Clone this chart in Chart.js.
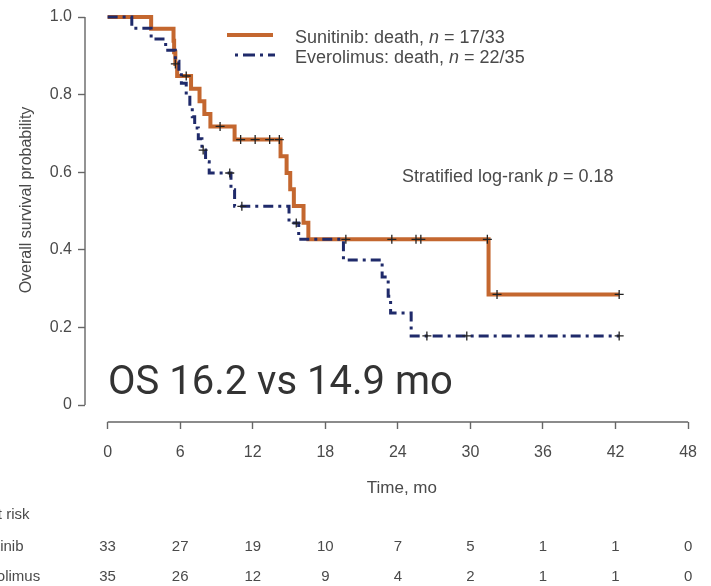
<!DOCTYPE html>
<html>
<head>
<meta charset="utf-8">
<script src="https://cdn.jsdelivr.net/npm/chart.js@4.4.0/dist/chart.umd.min.js"></script>
<style>
  html, body { margin: 0; padding: 0; background: #fff; }
  #osChart { display: block; }
</style>
</head>
<body>
<canvas id="osChart" width="711" height="586"></canvas>
<script>
// Kaplan-Meier steps: time (months) and survival after each event
let sunTimes = [0, 3.6, 5.45, 5.5, 5.6, 5.75, 6.9, 7.6, 8.0, 8.5, 10.5, 14.3, 14.8, 15.1, 15.4, 16.2, 16.6, 31.5, 42.3];
let sunSurv = [1, 0.970, 0.939, 0.909, 0.879, 0.848, 0.815, 0.783, 0.750, 0.718, 0.684, 0.641, 0.598, 0.556, 0.513, 0.470, 0.427, 0.285, 0.285];
let sunCensorTimes = [5.6, 6.5, 9.3, 11.0, 12.2, 13.4, 14.2, 19.7, 23.5, 25.5, 25.9, 31.4, 32.2, 42.3];
let sunCensorSurv = [0.879, 0.848, 0.718, 0.684, 0.684, 0.684, 0.684, 0.427, 0.427, 0.427, 0.427, 0.427, 0.285, 0.285];

let eveTimes = [0, 2.0, 3.6, 4.8, 5.6, 5.9, 6.1, 6.5, 6.8, 7.0, 7.2, 7.5, 7.8, 8.1, 8.4, 10.2, 10.5, 15.0, 15.8, 19.5, 22.7, 23.2, 23.4, 25.1, 42.3];
let eveSurv = [1, 0.971, 0.943, 0.914, 0.886, 0.857, 0.829, 0.800, 0.771, 0.743, 0.714, 0.686, 0.657, 0.627, 0.598, 0.555, 0.512, 0.469, 0.427, 0.374, 0.330, 0.280, 0.237, 0.178, 0.178];
let eveCensorTimes = [7.9, 10.1, 11.1, 15.6, 26.4, 29.7, 42.3];
let eveCensorSurv = [0.657, 0.598, 0.512, 0.469, 0.178, 0.178, 0.178];

let xTicks = [0, 6, 12, 18, 24, 30, 36, 42, 48];
let yTicks = [0, 0.2, 0.4, 0.6, 0.8, 1.0];
let sunRisk = [33, 27, 19, 10, 7, 5, 1, 1, 0];
let eveRisk = [35, 26, 12, 9, 4, 2, 1, 1, 0];

let orange = '#c4672f';
let navy = '#1f2a6a';
let grey = '#4a4a4a';
let sans = '"Liberation Sans", Arial, sans-serif';
let blueDash = [10, 5, 3, 5];

let pts = (xs, ys) => xs.map((x, i) => ({ x: x, y: ys[i] }));

function textRuns(ctx, runs, x, y, size) {
    runs.forEach(r => {
        ctx.font = (r[1] ? 'italic ' : '') + size + 'px ' + sans;
        ctx.fillText(r[0], x, y);
        x += ctx.measureText(r[0]).width;
    });
}

let extras = {
    id: 'extras',
    afterDraw(chart) {
        let ctx = chart.ctx;
        let xs = chart.scales.x, ys = chart.scales.y;
        let area = chart.chartArea;
        ctx.save();
        // detached axis lines
        ctx.strokeStyle = '#666';
        ctx.lineWidth = 1.4;
        ctx.beginPath();
        ctx.moveTo(area.left, ys.getPixelForValue(1));
        ctx.lineTo(area.left, ys.getPixelForValue(0));
        ctx.moveTo(xs.getPixelForValue(0), area.bottom);
        ctx.lineTo(xs.getPixelForValue(48), area.bottom);
        ctx.stroke();

        // legend
        let lx0 = 227, lx1 = 273;
        ctx.lineWidth = 4;
        ctx.strokeStyle = orange;
        ctx.beginPath(); ctx.moveTo(lx0, 35); ctx.lineTo(lx1, 35); ctx.stroke();
        ctx.lineWidth = 3;
        ctx.strokeStyle = navy;
        ctx.setLineDash([3, 5, 12, 5]);
        ctx.beginPath(); ctx.moveTo(lx0 + 8, 55); ctx.lineTo(lx1 + 2, 55); ctx.stroke();
        ctx.setLineDash([]);
        ctx.fillStyle = grey;
        ctx.textAlign = 'left';
        ctx.textBaseline = 'alphabetic';
        textRuns(ctx, [['Sunitinib: death, ', 0], ['n', 1], [' = 17/33', 0]], 295, 43, 18);
        textRuns(ctx, [['Everolimus: death, ', 0], ['n', 1], [' = 22/35', 0]], 295, 63, 18);
        textRuns(ctx, [['Stratified log-rank ', 0], ['p', 1], [' = 0.18', 0]], 402, 182, 18);

        // axis titles
        ctx.font = '17px ' + sans;
        ctx.textAlign = 'center';
        ctx.textBaseline = 'middle';
        ctx.fillText('Time, mo', xs.getPixelForValue(24) + 4, 488);
        ctx.save();
        ctx.translate(27, 200);
        ctx.rotate(-Math.PI / 2);
        ctx.font = '16px ' + sans;
        ctx.fillText('Overall survival probability', 0, 0);
        ctx.restore();

        // number at risk table
        ctx.font = '15px ' + sans;
        ctx.textAlign = 'left';
        ctx.fillText('No. at risk', -38, 515);
        ctx.fillText('Sunitinib', -34, 547);
        ctx.fillText('Everolimus', -34, 577);
        ctx.textAlign = 'center';
        xTicks.forEach((t, i) => {
            ctx.fillText(String(sunRisk[i]), xs.getPixelForValue(t), 547);
            ctx.fillText(String(eveRisk[i]), xs.getPixelForValue(t), 577);
        });

        // headline
        ctx.fillStyle = '#333';
        ctx.textAlign = 'left';
        ctx.textBaseline = 'alphabetic';
        ctx.font = '40px Roboto, "Noto Sans", sans-serif';
        ctx.fillText('OS 16.2 vs 14.9 mo', 108, 394);
        ctx.restore();
    }
};

new Chart(document.getElementById('osChart'), {
    type: 'line',
    data: {
        datasets: [{
            label: 'Censored',
            data: pts(sunCensorTimes, sunCensorSurv).concat(pts(eveCensorTimes, eveCensorSurv)),
            showLine: false,
            pointStyle: 'cross',
            pointRadius: 4.5,
            pointBorderColor: '#222',
            pointBorderWidth: 1.3,
            order: 0
        }, {
            label: 'Everolimus',
            data: pts(eveTimes, eveSurv),
            stepped: 'before',
            borderColor: navy,
            borderWidth: 3,
            borderDash: blueDash,
            pointRadius: 0,
            fill: false,
            clip: 8,
            order: 1
        }, {
            label: 'Sunitinib',
            data: pts(sunTimes, sunSurv),
            stepped: 'before',
            borderColor: orange,
            borderWidth: 4,
            pointRadius: 0,
            fill: false,
            clip: 8,
            order: 2
        }]
    },
    options: {
        responsive: false,
        animation: false,
        layout: { padding: { top: 17, right: 13, left: 0, bottom: 0 } },
        plugins: { legend: { display: false }, tooltip: { enabled: false } },
        scales: {
            x: {
                type: 'linear',
                min: -1.87,
                max: 48,
                afterBuildTicks: s => { s.ticks = xTicks.map(v => ({ value: v })); },
                afterFit: s => { s.height = 164; },
                grid: { drawOnChartArea: false, drawTicks: true, tickLength: 7, tickColor: '#666', tickWidth: 1.4 },
                border: { display: false },
                ticks: { color: grey, font: { family: sans, size: 16 }, padding: 14, maxRotation: 0, autoSkip: false }
            },
            y: {
                type: 'linear',
                min: -0.0438,
                max: 1,
                afterBuildTicks: s => { s.ticks = yTicks.map(v => ({ value: v })); },
                afterFit: s => { s.width = 85; },
                grid: { drawOnChartArea: false, drawTicks: true, tickLength: 7, tickColor: '#666', tickWidth: 1.4 },
                border: { display: false },
                ticks: {
                    color: grey,
                    font: { family: sans, size: 16 },
                    padding: 6,
                    callback: v => v === 0 ? '0' : v.toFixed(1)
                }
            }
        }
    },
    plugins: [extras]
});
</script>
</body>
</html>
